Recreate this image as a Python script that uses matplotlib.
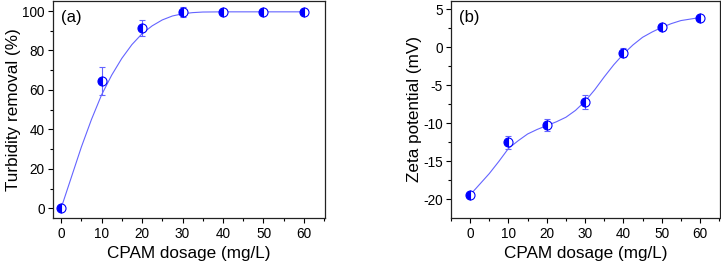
import numpy as np
import matplotlib
matplotlib.use("Agg")
import matplotlib.pyplot as plt
from matplotlib.ticker import MultipleLocator

plt.rcParams['font.family'] = ['Liberation Sans', 'DejaVu Sans']
plt.rcParams['axes.unicode_minus'] = False

dose = [0, 10, 20, 30, 40, 50, 60]

# (a) turbidity removal
turb = [0, 64.4, 91.5, 99.4, 99.6, 99.6, 99.6]
turb_err = [0.5, 7.0, 4.0, 2.5, 0.6, 0.6, 0.6]
fit_a_x = [0, 2.5, 5, 7.5, 10, 12.5, 15, 17.5, 20, 22.5, 25, 27.5, 30, 32.5, 35, 40, 45, 50, 55, 60]
fit_a_y = [0, 15.5, 31, 45, 57.5, 67.5, 76, 83, 88.5, 92.5, 95.5, 97.5, 98.6, 99.2, 99.5, 99.6, 99.6, 99.6, 99.6, 99.6]

# (b) zeta potential
zeta = [-19.4, -12.5, -10.2, -7.2, -0.7, 2.65, 3.85]
zeta_err = [0.3, 0.85, 0.75, 0.87, 0.6, 0.3, 0.3]
fit_b_x = [0, 2.5, 5, 7.5, 10, 12.5, 15, 17.5, 20, 22.5, 25, 27.5, 30, 32.5, 35, 37.5, 40, 42.5, 45, 47.5, 50, 52.5, 55, 57.5, 60]
fit_b_y = [-19.4, -18.0, -16.6, -15.0, -13.3, -12.3, -11.4, -10.8, -10.3, -9.8, -9.2, -8.3, -7.1, -5.6, -3.9, -2.3, -0.9, 0.3, 1.3, 2.0, 2.6, 3.1, 3.5, 3.7, 3.9]

fig = plt.figure(figsize=(7.21, 2.65), dpi=100)
ax1 = fig.add_axes([0.0735, 0.177, 0.3773, 0.82])
ax2 = fig.add_axes([0.6255, 0.177, 0.373, 0.82])

line_c = '#6464ff'
mk_c = '#0000ff'


def draw(ax, fx, fy, y, yerr):
    ax.plot(fx, fy, color=line_c, lw=0.8, zorder=2)
    ax.errorbar(dose, y, yerr=yerr, fmt='none', ecolor=line_c, elinewidth=0.8,
                capsize=2.2, capthick=0.8, zorder=3)
    ax.plot(dose, y, 'o', ms=6.5, color=mk_c, fillstyle='left', markerfacecoloralt='white',
            markeredgecolor=mk_c, markeredgewidth=0.8, zorder=4, ls='none')
    ax.xaxis.set_major_locator(MultipleLocator(10))
    ax.xaxis.set_minor_locator(MultipleLocator(5))
    ax.tick_params(which='major', direction='out', length=3.5, width=0.8, labelsize=9.8, pad=2.5)
    ax.tick_params(axis='x', which='major', pad=3)
    ax.tick_params(which='minor', direction='out', length=2, width=0.8)
    for s in ax.spines.values():
        s.set_linewidth(0.9)
        s.set_color('#222222')
    ax.set_xlabel('CPAM dosage (mg/L)', fontsize=12.3, labelpad=3.5)


draw(ax1, fit_a_x, fit_a_y, turb, turb_err)
ax1.set_xlim(-2, 65.2)
ax1.set_ylim(-5, 105.2)
ax1.yaxis.set_major_locator(MultipleLocator(20))
ax1.yaxis.set_minor_locator(MultipleLocator(10))
ax1.set_ylabel('Turbidity removal (%)', fontsize=12.3, labelpad=1)
ax1.text(0.03, 0.923, '(a)', transform=ax1.transAxes, fontsize=12, va='center')

draw(ax2, fit_b_x, fit_b_y, zeta, zeta_err)
ax2.set_xlim(-5, 65.2)
ax2.set_ylim(-22.45, 6.1)
ax2.yaxis.set_major_locator(MultipleLocator(5))
ax2.yaxis.set_minor_locator(MultipleLocator(2.5))
ax2.set_ylabel('Zeta potential (mV)', fontsize=12.3, labelpad=1)
ax2.text(0.03, 0.923, '(b)', transform=ax2.transAxes, fontsize=12, va='center')

fig.savefig('out.png', dpi=100)
